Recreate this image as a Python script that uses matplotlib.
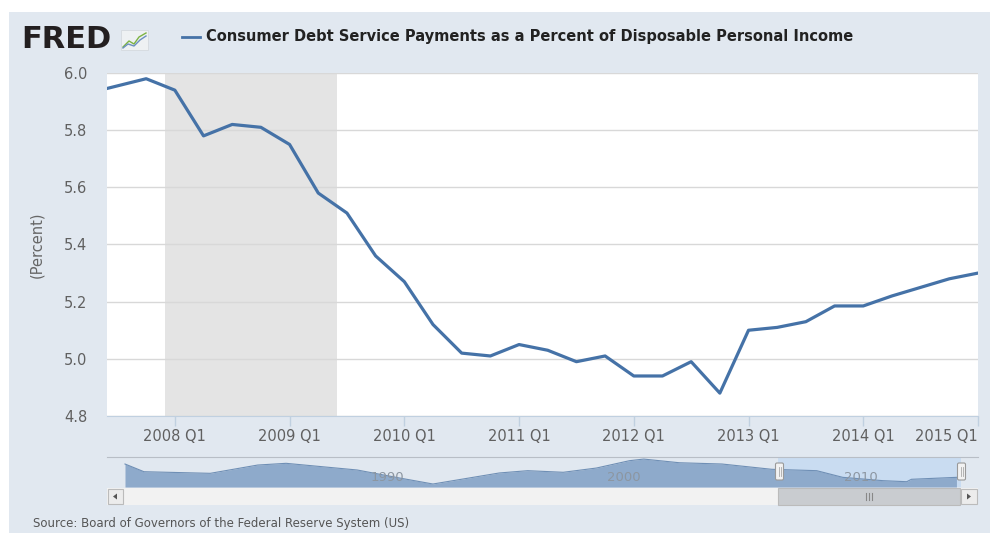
import matplotlib
matplotlib.use('Agg')
import matplotlib.pyplot as plt
from matplotlib.patches import Rectangle, FancyBboxPatch
import numpy as np

# quarterly series, 2007 Q2 .. 2015 Q1
quarters = ['2007 Q2', '2007 Q3', '2007 Q4',
            '2008 Q1', '2008 Q2', '2008 Q3', '2008 Q4',
            '2009 Q1', '2009 Q2', '2009 Q3', '2009 Q4',
            '2010 Q1', '2010 Q2', '2010 Q3', '2010 Q4',
            '2011 Q1', '2011 Q2', '2011 Q3', '2011 Q4',
            '2012 Q1', '2012 Q2', '2012 Q3', '2012 Q4',
            '2013 Q1', '2013 Q2', '2013 Q3', '2013 Q4',
            '2014 Q1', '2014 Q2', '2014 Q3', '2014 Q4',
            '2015 Q1']
debt_service = [5.93, 5.955, 5.98,
                5.94, 5.78, 5.82, 5.81,
                5.75, 5.58, 5.51, 5.36,
                5.27, 5.12, 5.02, 5.01,
                5.05, 5.03, 4.99, 5.01,
                4.94, 4.94, 4.99, 4.88,
                5.10, 5.11, 5.13, 5.185,
                5.185, 5.22, 5.25, 5.28,
                5.30]
tick_labels = ['2008 Q1', '2009 Q1', '2010 Q1', '2011 Q1',
               '2012 Q1', '2013 Q1', '2014 Q1', '2015 Q1']
y_ticks = [4.8, 5.0, 5.2, 5.4, 5.6, 5.8, 6.0]
# recession Dec 2007 - Jun 2009, in quarter-index units
recession_start, recession_end = 2.667, 8.667

# navigator (full history, rough thumbnail)
nav_years = [1980.0, 1980.8, 1983.6, 1985.6, 1986.8, 1989.8, 1991.6, 1993.0,
             1995.8, 1997.0, 1998.5, 1999.9, 2001.3, 2001.9, 2003.4, 2005.2,
             2007.3, 2009.2, 2010.3, 2012.0, 2013.0, 2013.2, 2015.1]
nav_values = [6.46, 5.79, 5.65, 6.37, 6.52, 5.94, 5.24, 4.72,
              5.68, 5.88, 5.74, 6.11, 6.75, 6.89, 6.57, 6.46,
              6.00, 5.88, 5.30, 5.01, 4.92, 5.13, 5.30]
nav_labels = [1990, 2000, 2010]

W, H = 990, 533
LINE = '#4572a7'
PANEL = '#e1e8f0'

fig = plt.figure(figsize=(W / 100, H / 100), dpi=100)
fig.patch.set_facecolor('white')


def frame(x0, y0, x1, y1):
    # pixel box (top-left origin) -> figure fraction rect
    return [x0 / W, 1 - y1 / H, (x1 - x0) / W, (y1 - y0) / H]


# pixel overlay for panel and widgets
bg = fig.add_axes([0, 0, 1, 1], zorder=0)
bg.set_xlim(0, W)
bg.set_ylim(H, 0)
bg.axis('off')
bg.add_patch(Rectangle((9, 12), W - 9, H - 12, facecolor=PANEL, edgecolor='none'))

# header
bg.text(21, 40, 'FRED', fontsize=22, weight='heavy', color='#231f20', va='center', ha='left')
bg.add_patch(Rectangle((121, 30), 27, 20, facecolor='#eef1f3', edgecolor='#d5dadf', lw=0.6))
bg.plot([123, 129, 134, 139, 146], [47, 41, 44, 37, 33], color='#7cb342', lw=1)
bg.plot([123, 128, 134, 140, 146], [48, 44, 46, 40, 36], color='#6b8fc0', lw=1)
bg.plot([182, 200], [37, 37], color=LINE, lw=2)
bg.text(206, 37, 'Consumer Debt Service Payments as a Percent of Disposable Personal Income',
        fontsize=10.5, weight='bold', color='#222222', va='center', ha='left')

fig.text(37 / W, 1 - 245 / H, '(Percent)', rotation=90, ha='center', va='center',
         color='#666666', fontsize=10.5)
fig.text(33 / W, 1 - 524 / H, 'Source: Board of Governors of the Federal Reserve System (US)',
         ha='left', va='center', color='#555555', fontsize=8.5)

# main chart
ax = fig.add_axes(frame(107, 73, 978, 416), zorder=2)
ax.set_facecolor('white')
x = np.arange(len(debt_service))
ax.axvspan(recession_start, recession_end, color='#e4e4e4', lw=0, zorder=0.1)
ax.plot(x, debt_service, color=LINE, lw=2.3, solid_joinstyle='round',
        solid_capstyle='round', zorder=3)
ax.set_xlim(0.635, len(debt_service) - 1)
ax.set_ylim(4.8, 6.0)
ax.set_yticks(y_ticks)
ax.set_yticklabels([f'{v:.1f}' for v in y_ticks])
ax.set_xticks([quarters.index(t) for t in tick_labels])
ax.set_xticklabels(tick_labels)
ax.get_xticklabels()[-1].set_ha('right')
ax.set_axisbelow(True)
ax.yaxis.grid(True, color='#d8d8d8', lw=1)
for side in ['top', 'left', 'right']:
    ax.spines[side].set_visible(False)
ax.spines['bottom'].set_color('#c0d0e0')
ax.tick_params(axis='y', length=0, pad=14, labelsize=10.5, labelcolor='#606060')
ax.tick_params(axis='x', length=7.5, width=1, color='#c0d0e0', pad=2,
               labelsize=10.5, labelcolor='#606060')

# navigator
px_per_year = (960 - 125) / (2015.25 - 1980.0)
nav_x0 = 1980.0 - (125 - 107) / px_per_year
nav_x1 = 2015.25 + (978 - 960) / px_per_year
sel_x0 = 1980.0 + (778 - 125) / px_per_year

nav = fig.add_axes(frame(107, 457, 978, 487), zorder=2)
nav.patch.set_alpha(0)
nav.set_xlim(nav_x0, nav_x1)
nav.set_ylim(4.46, 7.07)
nav.axvspan(sel_x0, 2015.3, color='#c9dcf1', lw=0, zorder=0)
nav.fill_between(nav_years, nav_values, 4.46, color='#8eaacb', lw=0, zorder=1)
nav.plot(nav_years, nav_values, color='#6f8fb5', lw=0.8, zorder=2)
for yr in nav_labels:
    nav.annotate(str(yr), (yr, 0.33), xycoords=('data', 'axes fraction'),
                 xytext=(6, 0), textcoords='offset points', ha='left', va='center',
                 color='#8c96a1', fontsize=9.5, zorder=3)
nav.set_xticks([])
nav.set_yticks([])
for side in ['bottom', 'left', 'right']:
    nav.spines[side].set_visible(False)
nav.spines['top'].set_color('#b8bec6')

# navigator handles and scrollbar
top = fig.add_axes([0, 0, 1, 1], zorder=3)
top.set_xlim(0, W)
top.set_ylim(H, 0)
top.axis('off')
for hx in [779.5, 961.5]:
    top.add_patch(FancyBboxPatch((hx - 4, 463), 8, 17, boxstyle='round,pad=0,rounding_size=1.5',
                                 facecolor='#f2f2f2', edgecolor='#999999', lw=0.8))
    top.plot([hx - 1, hx - 1], [467, 476], color='#aaaaaa', lw=0.6)
    top.plot([hx + 1, hx + 1], [467, 476], color='#aaaaaa', lw=0.6)

top.add_patch(Rectangle((107, 488), 871, 17, facecolor='#f2f2f2', edgecolor='none'))
top.add_patch(Rectangle((107.5, 489), 15, 15, facecolor='#ececec', edgecolor='#bbbbbb', lw=0.8))
top.add_patch(Rectangle((778, 488), 182, 17, facecolor='#c9ccd0', edgecolor='#bbbbbb', lw=0.8))
top.add_patch(Rectangle((961, 489), 16, 15, facecolor='#ececec', edgecolor='#bbbbbb', lw=0.8))
top.fill([117, 117, 113], [493.5, 499.5, 496.5], color='#555555', lw=0)
top.fill([967, 967, 971], [493.5, 499.5, 496.5], color='#555555', lw=0)
for gx in [866, 869, 872]:
    top.plot([gx, gx], [493, 500], color='#888888', lw=0.8)

fig.savefig('out.png', dpi=100, facecolor=fig.get_facecolor())
